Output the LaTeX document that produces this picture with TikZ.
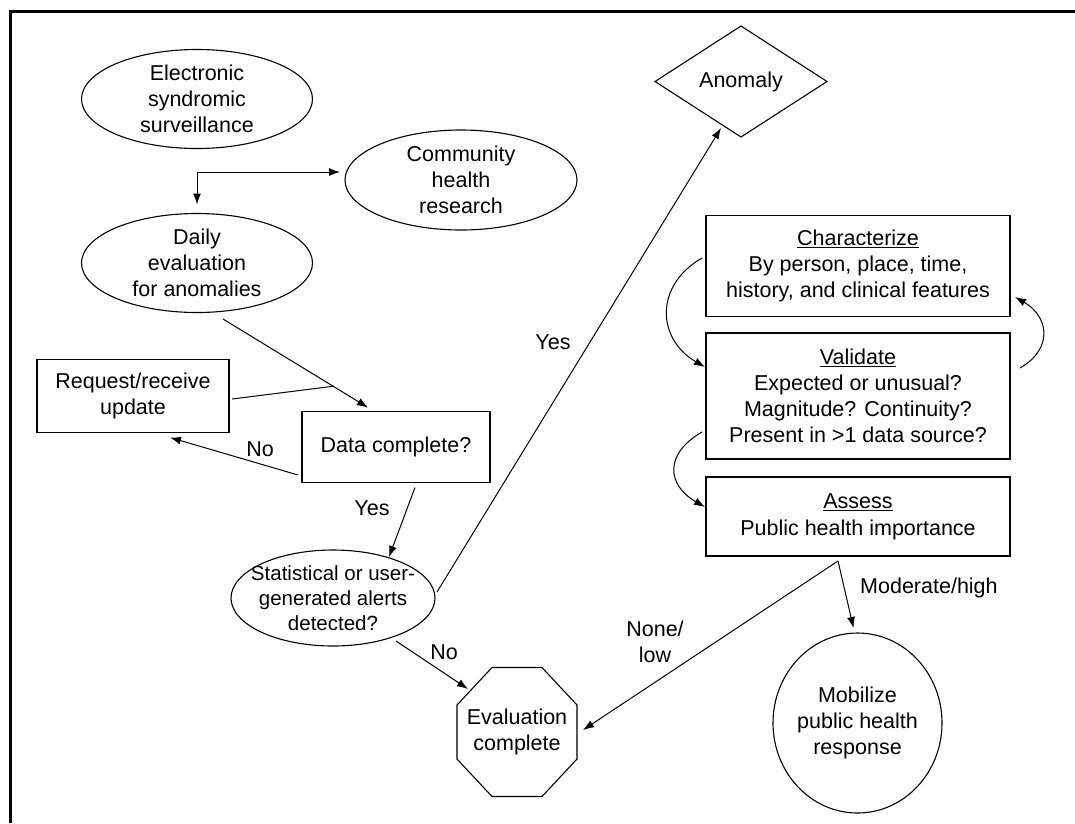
\documentclass[tikz,border=0pt]{standalone}
\usepackage{fontspec}
\setmainfont{Liberation Sans}
\usetikzlibrary{shapes.geometric,arrows.meta,calc}
\begin{document}
\begin{tikzpicture}[x=1pt,y=1pt,
  every node/.style={font=\fontsize{21.5}{26}\selectfont, text=black},
  shp/.style={draw, line width=1.1pt, inner sep=0pt, outer sep=0pt},
  ell/.style={shp, ellipse},
  box/.style={shp, rectangle, align=center},
  txt/.style={align=center, inner sep=0pt},
  arr/.style={line width=1pt, -{Latex[length=11pt,width=8pt]}},
  darr/.style={line width=1pt, {Latex[length=11pt,width=8pt]}-{Latex[length=11pt,width=8pt]}},
  ln/.style={line width=1pt},
  lbl/.style={inner sep=0pt, align=center}
]
\useasboundingbox (0,0) rectangle (1075,-823);
\draw[line width=3pt] (10,-823) -- (10,-11) -- (1075,-11);

% nodes
\node[ell, minimum width=231pt, minimum height=99pt,
  label={[txt]center:Electronic\\syndromic\\surveillance}] (elec) at (197,-99) {};
\node[ell, minimum width=232pt, minimum height=100pt,
  label={[txt]center:Community\\health\\research}] (comm) at (461,-180) {};
\node[ell, minimum width=231pt, minimum height=99pt,
  label={[txt]center:Daily\\evaluation\\for anomalies}] (daily) at (197,-263) {};
\node[box, minimum width=192pt, minimum height=73pt] (req) at (133,-396) {Request/receive\\update};
\node[box, minimum width=188pt, minimum height=71pt] (dc) at (396,-447) {Data complete?};
\node[ell, minimum width=204pt, minimum height=96pt,
  label={[txt, font=\fontsize{20.5}{25}\selectfont]center:Statistical or user-\\generated alerts\\detected?}] (stat) at (333,-598) {};
\node[shp, diamond, minimum width=172pt, minimum height=111pt,
  label={[txt]center:Anomaly}] (anom) at (741,-81.5) {};
\node[box, minimum width=304pt, minimum height=101pt] (char) at (858,-266)
  {\underline{Characterize}\\By person, place, time,\\history, and clinical features};
\node[box, minimum width=304pt, minimum height=126pt] (val) at (858,-396)
  {\underline{Validate}\\Expected or unusual?\\Magnitude? Continuity?\\Present in >1 data source?};
\node[box, minimum width=304pt, minimum height=79pt] (ass) at (858,-516.5)
  {\underline{Assess}\\[1pt]Public health importance};
\node[ell, minimum width=169pt, minimum height=180pt,
  label={[txt]center:Mobilize\\public health\\response}] (mob) at (857.5,-723) {};
\node[txt, minimum width=120pt, minimum height=129pt] (evalc) at (517,-732) {Evaluation\\complete};
\draw[line width=1.1pt] ([shift={(-25,64.5)}]evalc.center) -- ([shift={(25,64.5)}]evalc.center)
  -- ([shift={(60,27)}]evalc.center) -- ([shift={(60,-27)}]evalc.center)
  -- ([shift={(25,-64.5)}]evalc.center) -- ([shift={(-25,-64.5)}]evalc.center)
  -- ([shift={(-60,-27)}]evalc.center) -- ([shift={(-60,27)}]evalc.center) -- cycle;

% connectors
\draw[darr, shorten <=9pt, shorten >=5pt] (daily.north) |- ([yshift=8pt]comm.west);
\draw[arr] ($(daily.center)+(26,-56)$) -- coordinate[pos=0.76] (j) ($(dc.north)+(-28,4)$);
\draw[ln] ($(req.east)+(3,-3)$) -- (j);
\draw[arr] ($(dc.west)+(-4,-28)$) -- ($(req.south)+(37,-5)$);
\draw[arr] ($(dc.south)+(19,-5)$) -- ($(stat.center)+(56,41)$);
\draw[arr] ($(stat.east)+(2,6)$) -- ($(anom.center)+(-20,-46.5)$);
\draw[arr] ($(stat.center)+(63,-43)$) -- ($(evalc.center)+(-49,43)$);
\draw[arr] ($(ass.south)+(-20,-5)$) -- ($(mob.north)+(-4,5)$);
\draw[arr] ($(ass.south)+(-20,-5)$) -- ($(evalc.center)+(66,2)$);
\draw[arr] ($(char.west)+(-4,8)$) to[out=210,in=150,looseness=1.3] ($(val.west)+(-1,29)$);
\draw[arr] ($(val.east)+(10,28)$) to[out=30,in=-30,looseness=1.4] ($(char.east)+(5,-31)$);
\draw[arr] ($(val.west)+(-4,-36)$) to[out=210,in=150,looseness=1.5] ($(ass.west)+(-1,9.5)$);

% labels
\node[lbl] (no1) at (260,-449) {No};
\node[lbl] (yes1) at (372,-508) {Yes};
\node[lbl] (yes2) at (553,-342) {Yes};
\node[lbl] (no2) at (444,-652) {No};
\node[lbl, anchor=west] (modhigh) at (860,-588) {Moderate/high};
\node[lbl] (nonelow) at (655,-642) {None/\\low};
\end{tikzpicture}
\end{document}
